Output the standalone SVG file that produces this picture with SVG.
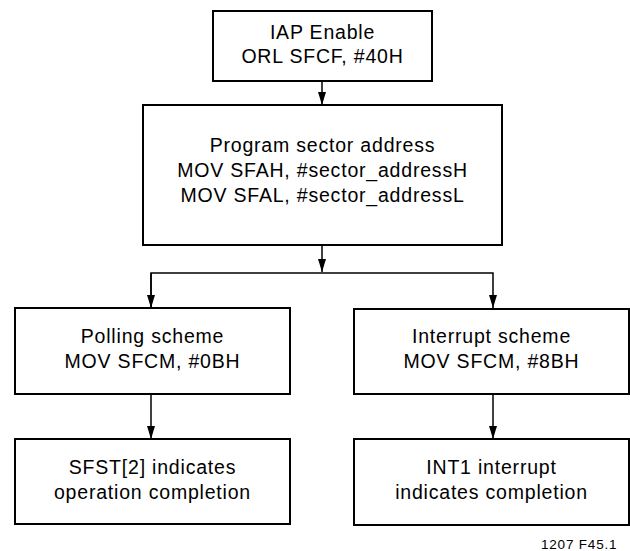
<svg xmlns="http://www.w3.org/2000/svg" width="630" height="551" viewBox="0 0 630 551">
<style>
.box{fill:#fff;stroke:#000;stroke-width:2}
.t{font-family:"Liberation Sans",Arial,Helvetica,sans-serif;font-size:19.5px;letter-spacing:0.8px;text-anchor:middle;fill:#000}
.cap{font-family:"Liberation Sans",Arial,Helvetica,sans-serif;font-size:13.5px;letter-spacing:0.8px;fill:#000}
.c{fill:none;stroke:#000;stroke-width:1.5}
</style>
<defs>
<marker id="ah" viewBox="0 0 13 8" refX="13" refY="4" markerWidth="13" markerHeight="8" markerUnits="userSpaceOnUse" orient="auto">
<path d="M0,0 L13,4 L0,8 Z" fill="#000"/>
</marker>
</defs>
<rect width="630" height="551" fill="#fff"/>
<g id="connectors">
<line class="c" x1="322" y1="81" x2="322" y2="105" marker-end="url(#ah)"/>
<line class="c" x1="322" y1="245" x2="322" y2="272" marker-end="url(#ah)"/>
<polyline class="c" points="151,308 151,273 493,273 493,308" marker-end="url(#ah)"/>
<line class="c" x1="151" y1="273" x2="151" y2="308" marker-end="url(#ah)"/>
<line class="c" x1="151" y1="394" x2="151" y2="439" marker-end="url(#ah)"/>
<line class="c" x1="493" y1="394" x2="493" y2="439" marker-end="url(#ah)"/>
</g>
<g id="iap-enable">
<rect class="box" x="213" y="11" width="219" height="70"/>
<text class="t" x="322.5" y="39">IAP Enable</text>
<text class="t" x="322.5" y="63">ORL SFCF, #40H</text>
</g>
<g id="program-sector">
<rect class="box" x="143" y="105" width="359" height="140"/>
<text class="t" x="322.5" y="152">Program sector address</text>
<text class="t" x="322.5" y="177">MOV SFAH, #sector_addressH</text>
<text class="t" x="322.5" y="202">MOV SFAL, #sector_addressL</text>
</g>
<g id="polling-scheme">
<rect class="box" x="15" y="308" width="275" height="86"/>
<text class="t" x="152.5" y="343">Polling scheme</text>
<text class="t" x="152.5" y="368">MOV SFCM, #0BH</text>
</g>
<g id="interrupt-scheme">
<rect class="box" x="354" y="309" width="275" height="85"/>
<text class="t" x="491.5" y="343">Interrupt scheme</text>
<text class="t" x="491.5" y="368">MOV SFCM, #8BH</text>
</g>
<g id="sfst-completion">
<rect class="box" x="15" y="439" width="275" height="85"/>
<text class="t" x="152.5" y="474">SFST[2] indicates</text>
<text class="t" x="152.5" y="499">operation completion</text>
</g>
<g id="int1-completion">
<rect class="box" x="354" y="439" width="275" height="86"/>
<text class="t" x="491.5" y="474">INT1 interrupt</text>
<text class="t" x="491.5" y="499">indicates completion</text>
</g>
<text class="cap" x="541" y="549">1207 F45.1</text>
</svg>
